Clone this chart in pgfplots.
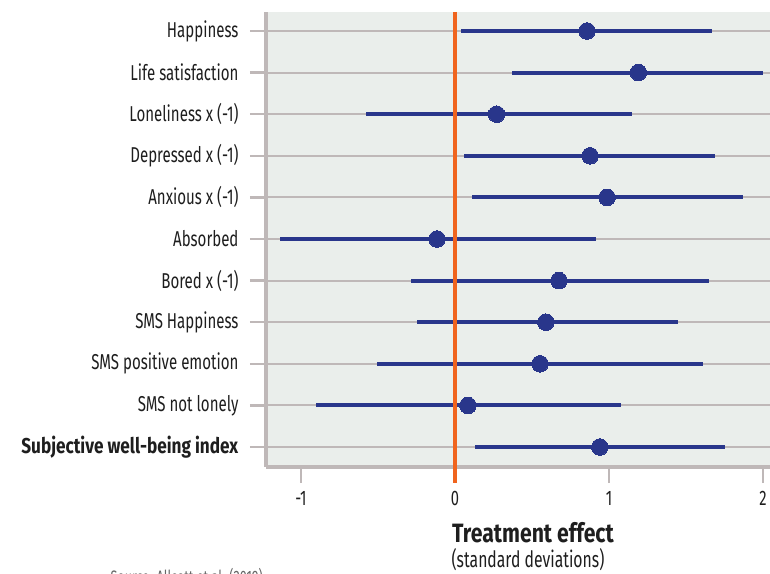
\documentclass[border=0pt]{standalone}
\usepackage{fontspec}
\setmainfont{Fira Sans}[FakeStretch=0.70, BoldFeatures={FakeStretch=0.80}]
\usepackage{pgfplots}
\usepackage{pgfplotstable}
\pgfplotsset{compat=1.18}

\definecolor{panel}{RGB}{234,238,235}
\definecolor{rule}{RGB}{191,184,184}
\definecolor{zero}{RGB}{240,100,30}
\definecolor{navy}{RGB}{41,54,139}
\definecolor{ink}{RGB}{30,30,30}

% row position, lower bound, estimate, upper bound (standard deviations)
\pgfplotstableread{
y   lo      est     hi
11  0.040   0.857   1.670
10  0.370   1.190   2.000
9   -0.580  0.270   1.150
8   0.058   0.877   1.690
7   0.110   0.987   1.870
6   -1.136  -0.117  0.916
5   -0.286  0.675   1.650
4   -0.247  0.590   1.450
3   -0.507  0.552   1.610
2   -0.900  0.084   1.080
1   0.130   0.940   1.750
}\effects

\begin{document}
\begin{tikzpicture}
\begin{axis}[
  scale only axis, width=504pt, height=455pt,
  xmin=-1.227, xmax=2.045, ymin=0.52, ymax=11.457,
  axis x line*=bottom, axis y line*=left,
  axis line style={rule, line width=3.3pt},
  axis background/.style={fill=panel},
  xtick={-1,0,1,2}, xticklabels={-1,0,1,2},
  ytick={1,2,3,4,5,6,7,8,9,10,11},
  yticklabels={\textbf{Subjective well-being index}, SMS not lonely, SMS positive emotion, SMS Happiness, Bored x (-1), Absorbed, Anxious x (-1), Depressed x (-1), Loneliness x (-1), Life satisfaction, Happiness},
  tick align=outside, major tick length=16pt,
  tick style={rule, line width=2.5pt},
  ymajorgrids, grid style={rule, line width=2pt},
  yticklabel style={font=\fontsize{21.5}{25}\selectfont, text=ink, xshift=-8pt},
  xticklabel style={font=\fontsize{21}{25}\selectfont, text=ink, yshift=-5pt},
  clip=false,
]
  % confidence intervals
  \addplot[only marks, mark=none,
    error bars/.cd, x dir=both, x explicit, error mark=none,
    error bar style={draw=navy, line width=4pt}]
    table[x=est, y=y,
      x error plus expr=\thisrow{hi}-\thisrow{est},
      x error minus expr=\thisrow{est}-\thisrow{lo}] {\effects};
  % zero reference line, running down as the tick at 0
  \draw[zero, line width=4.2pt] (axis cs:0,11.457) -- ([yshift=-16pt]axis cs:0,0.52);
  % point estimates
  \addplot[only marks, mark=*, mark size=8.3pt, draw=navy, fill=navy, mark options={line width=0pt, draw=navy, fill=navy}]
    table[x=est, y=y] {\effects};
  \coordinate (bl) at (rel axis cs:0,0);
\end{axis}
\node[anchor=base, text=ink, font=\fontsize{26.5}{31}\selectfont\bfseries] at ([shift={(267pt,-75pt)}]bl) {Treatment effect};
\node[anchor=base, text=ink, font=\fontsize{22.5}{27}\selectfont] at ([shift={(262pt,-100pt)}]bl) {(standard deviations)};
\node[anchor=base west, text=black!60, font=\fontsize{18}{21}\selectfont] at ([shift={(-159pt,-116pt)}]bl) {Source: Allcott et al. (2019)};
\pgfresetboundingbox
\path[use as bounding box] (bl) ++(-266pt,-106pt) rectangle ++(770pt,573pt);
\end{tikzpicture}
\end{document}
